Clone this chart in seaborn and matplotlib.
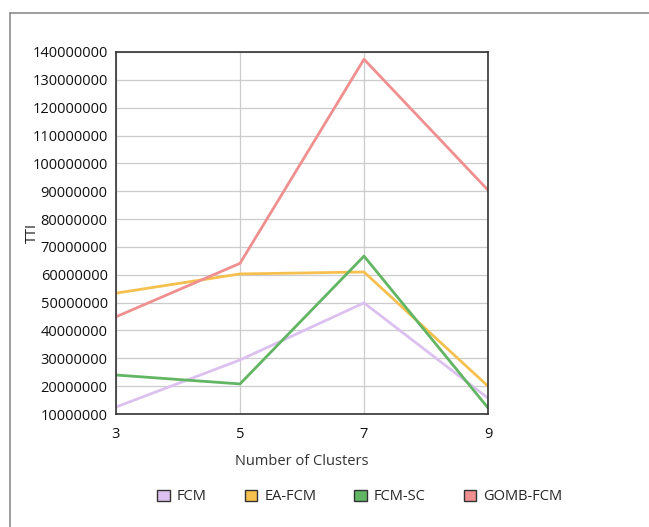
import pandas as pd
import numpy as np
import seaborn as sns
import matplotlib.pyplot as plt
from matplotlib.patches import Rectangle
from matplotlib.lines import Line2D
from matplotlib.ticker import FuncFormatter

# values
clusters = [3, 5, 7, 9]
fcm = [12500000, 29400000, 49900000, 15700000]
ea_fcm = [53400000, 60300000, 61000000, 20000000]
fcm_sc = [24000000, 20800000, 66700000, 12200000]
gomb_fcm = [44900000, 64100000, 137400000, 90400000]

methods = ['FCM', 'EA-FCM', 'FCM-SC', 'GOMB-FCM']
colors = ['#dcc0f0', '#f6c04f', '#62b562', '#f08f8f']

df = pd.DataFrame({
    'clusters': clusters * 4,
    'TTI': fcm + ea_fcm + fcm_sc + gomb_fcm,
    'method': np.repeat(methods, len(clusters)),
})

sns.set_style('white')
plt.rcParams['font.family'] = ['Open Sans', 'DejaVu Sans']

fig = plt.figure(figsize=(6.49, 5.27), dpi=100)
# outer frame (left and top edges visible in the reference)
x0, y0 = 10 / 649, 1 - 13 / 527
fig.add_artist(Line2D([x0, 1], [y0, y0], transform=fig.transFigure, color='#8c8c8c', linewidth=1.2))
fig.add_artist(Line2D([x0, x0], [0, y0], transform=fig.transFigure, color='#8c8c8c', linewidth=1.2))

ax = fig.add_axes([116 / 649, 1 - 414 / 527, 372 / 649, 362 / 527])

sns.lineplot(data=df, x='clusters', y='TTI', hue='method', hue_order=methods,
             palette=colors, linewidth=2, ax=ax, legend=False)

ax.set_xlim(3, 9)
ax.set_ylim(10000000, 140000000)
ax.set_xticks(clusters)
ax.set_yticks(np.arange(10000000, 140000001, 10000000))
ax.yaxis.set_major_formatter(FuncFormatter(lambda v, p: f'{int(v)}'))
ax.grid(True, color='#cccccc', linewidth=0.9)
ax.set_axisbelow(True)
for s in ax.spines.values():
    s.set_color('#333333')
    s.set_linewidth(1.2)
ax.tick_params(axis='both', labelsize=10.5, colors='#111111', length=0)
ax.tick_params(axis='y', pad=6)
ax.tick_params(axis='x', pad=9)
ax.set_xlabel('Number of Clusters', fontsize=10.5, color='#333333')
ax.xaxis.set_label_coords(0.5, -40 / 362)
ax.set_ylabel('TTI', fontsize=10.5, color='#222222')
ax.yaxis.set_label_coords(-76 / 372, 0.5)

handles = [Rectangle((0, 0), 1, 1, facecolor=c, edgecolor='#333333', linewidth=1) for c in colors]
fig.legend(handles, methods, loc='center', bbox_to_anchor=(360 / 649, 1 - 497 / 527),
           ncol=4, frameon=False, fontsize=10.5, handlelength=0.85, handleheight=0.85,
           handletextpad=0.5, columnspacing=2.6)

fig.savefig('out.png', dpi=100)
